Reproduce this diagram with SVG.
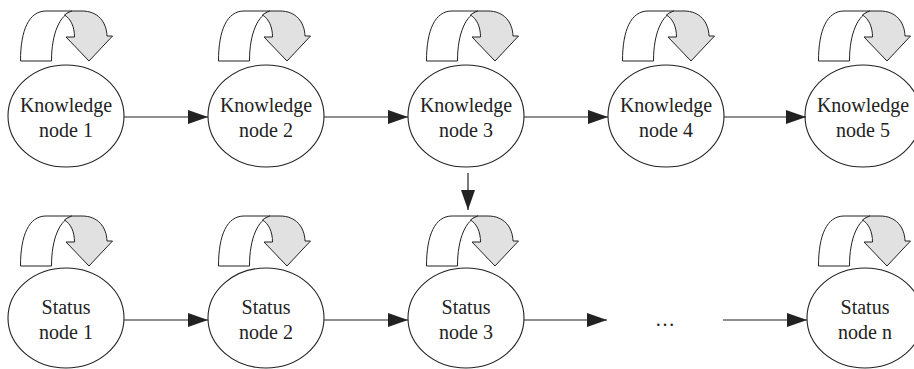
<svg xmlns="http://www.w3.org/2000/svg" xmlns:xlink="http://www.w3.org/1999/xlink" width="914" height="369" viewBox="0 0 914 369">
  <style>
    .node ellipse { fill: #ffffff; stroke: #222222; stroke-width: 1.1; }
    .node text { font-family: "Liberation Serif", "Times New Roman", serif; font-size: 20px; fill: #222222; text-anchor: middle; }
    .band { fill: #ffffff; stroke: #222222; stroke-width: 1; stroke-linejoin: round; }
    .turn { fill: #e1e1e1; stroke: #222222; stroke-width: 1; stroke-linejoin: miter; }
    .edge { fill: none; stroke: #222222; stroke-width: 1.2; marker-end: url(#head); }
    .dots { font-family: "Liberation Serif", "Times New Roman", serif; font-size: 20px; fill: #222222; text-anchor: middle; }
  </style>
  <defs>
    <marker id="head" markerUnits="userSpaceOnUse" markerWidth="20" markerHeight="14" refX="20" refY="7" orient="auto">
      <path d="M0,0 L20,7 L0,14 Z" fill="#222222"/>
    </marker>
    <!-- curved self-loop arrow drawn above each node -->
    <g id="loop">
      <path class="band" d="M20.5,61 L51.5,61 C51.5,33 60,15 72,11 L46,11 C29,11 20.5,30 20.5,61 Z"/>
      <path class="turn" d="M64.5,15 C71,19 74.5,27 74.5,37 L66,37 L89,61 L112.5,36 L107,36 C106.5,22 98,11 82,11 L72,11 C69,12 66.5,13.3 64.5,15 Z"/>
    </g>
  </defs>

  <!-- knowledge row -->
  <g id="knowledge1" class="node">
    <use xlink:href="#loop"/>
    <ellipse cx="66" cy="116" rx="58" ry="51"/>
    <text x="66" y="112">Knowledge</text>
    <text x="66" y="137">node 1</text>
  </g>
  <g id="knowledge2" class="node">
    <use xlink:href="#loop" transform="translate(198,0)"/>
    <ellipse cx="266" cy="116" rx="58" ry="51"/>
    <text x="266" y="112">Knowledge</text>
    <text x="266" y="137">node 2</text>
  </g>
  <g id="knowledge3" class="node">
    <use xlink:href="#loop" transform="translate(406,0)"/>
    <ellipse cx="466" cy="116" rx="58" ry="51"/>
    <text x="466" y="112">Knowledge</text>
    <text x="466" y="137">node 3</text>
  </g>
  <g id="knowledge4" class="node">
    <use xlink:href="#loop" transform="translate(602,0)"/>
    <ellipse cx="666" cy="116" rx="58" ry="51"/>
    <text x="666" y="112">Knowledge</text>
    <text x="666" y="137">node 4</text>
  </g>
  <g id="knowledge5" class="node">
    <use xlink:href="#loop" transform="translate(798,0)"/>
    <ellipse cx="863" cy="116" rx="58" ry="51"/>
    <text x="863" y="112">Knowledge</text>
    <text x="863" y="137">node 5</text>
  </g>

  <!-- status row -->
  <g id="status1" class="node">
    <use xlink:href="#loop" transform="translate(0,205)"/>
    <ellipse cx="66" cy="318" rx="58" ry="50"/>
    <text x="66" y="314">Status</text>
    <text x="66" y="339">node 1</text>
  </g>
  <g id="status2" class="node">
    <use xlink:href="#loop" transform="translate(198,205)"/>
    <ellipse cx="266" cy="318" rx="58" ry="50"/>
    <text x="266" y="314">Status</text>
    <text x="266" y="339">node 2</text>
  </g>
  <g id="status3" class="node">
    <use xlink:href="#loop" transform="translate(406,205)"/>
    <ellipse cx="466" cy="318" rx="58" ry="50"/>
    <text x="466" y="314">Status</text>
    <text x="466" y="339">node 3</text>
  </g>
  <g id="statusN" class="node">
    <use xlink:href="#loop" transform="translate(798,205)"/>
    <ellipse cx="865" cy="318" rx="58" ry="50"/>
    <text x="865" y="314">Status</text>
    <text x="865" y="339">node n</text>
  </g>

  <g id="ellipsis">
    <text class="dots" x="665" y="326">…</text>
  </g>

  <!-- connectors -->
  <g id="connectors">
    <line class="edge" x1="124" y1="117" x2="208" y2="117"/>
    <line class="edge" x1="324" y1="117" x2="408" y2="117"/>
    <line class="edge" x1="524" y1="117" x2="608" y2="117"/>
    <line class="edge" x1="724" y1="117" x2="806" y2="117"/>
    <line class="edge" x1="468" y1="173" x2="468" y2="210"/>
    <line class="edge" x1="124" y1="320" x2="208" y2="320"/>
    <line class="edge" x1="324" y1="320" x2="408" y2="320"/>
    <line class="edge" x1="524" y1="320" x2="607" y2="320"/>
    <line class="edge" x1="723" y1="320" x2="807" y2="320"/>
  </g>
</svg>
